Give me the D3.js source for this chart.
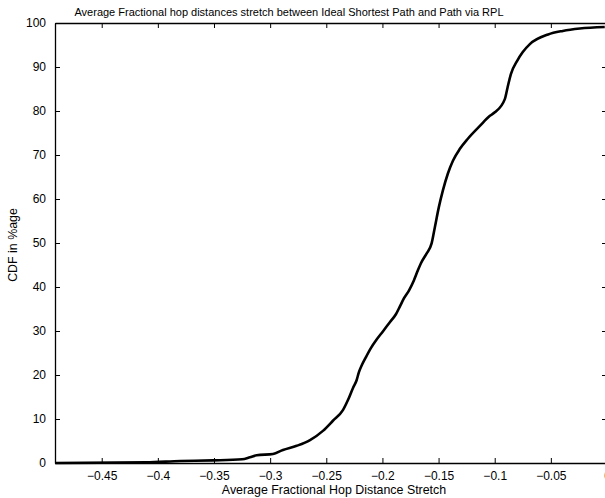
<!DOCTYPE html>
<html>
<head>
<meta charset="utf-8">
<script src="https://cdn.jsdelivr.net/npm/d3@7"></script>
<style>
  html, body { margin: 0; padding: 0; background: #fff; }
  svg { display: block; }
  text { font-family: "Liberation Sans", Arial, Helvetica, sans-serif; fill: #000; }
</style>
</head>
<body>
<svg id="chart" width="605" height="498"></svg>
<script>
// ---- data ----
const stretchValues = [
  -0.4916, -0.4106, -0.380, -0.351, -0.325, -0.318, -0.312, -0.2975, -0.2886, -0.2764,
  -0.2645, -0.253, -0.2441, -0.2352, -0.2307, -0.2263, -0.223, -0.221, -0.2184, -0.2148,
  -0.2103, -0.2050, -0.1996, -0.1934, -0.1880, -0.1844, -0.1809, -0.1764, -0.1720, -0.1684,
  -0.1657, -0.1607, -0.1562, -0.1533, -0.1498, -0.1462, -0.1417, -0.1372, -0.1310, -0.1239,
  -0.1132, -0.1043, -0.0999, -0.0910, -0.0886, -0.0856, -0.0800, -0.075, -0.0687, -0.0524,
  -0.0394, -0.0242, -0.002
];
const cdfPercent = [
  0, 0.15, 0.45, 0.6, 0.85, 1.3, 1.75, 2.05, 2.95, 3.9,
  5.2, 7.3, 9.6, 12.0, 14.3, 17.0, 18.8, 20.6, 22.2, 24.0,
  26.1, 28.1, 29.9, 32.0, 33.8, 35.6, 37.4, 39.2, 41.5, 43.8,
  45.4, 47.6, 49.9, 53.6, 58.1, 61.9, 65.8, 68.7, 71.4, 73.7,
  76.6, 78.9, 79.7, 82.7, 85.3, 88.4, 91.4, 93.4, 95.2, 97.4,
  98.2, 98.75, 99.1
];
const xTicks = [-0.45, -0.4, -0.35, -0.3, -0.25, -0.2, -0.15, -0.1, -0.05, 0];
const xTickLabels = ["\u22120.45", "\u22120.4", "\u22120.35", "\u22120.3", "\u22120.25", "\u22120.2", "\u22120.15", "\u22120.1", "\u22120.05", "0"];
const yTicks = [0, 10, 20, 30, 40, 50, 60, 70, 80, 90, 100];
const xDomain = [-0.4916, 0];
const yDomain = [0, 100];
const titleText = "Average Fractional hop distances stretch between Ideal Shortest Path and Path via RPL";
const xLabelText = "Average Fractional Hop Distance Stretch";
const yLabelText = "CDF in %age";

// ---- layout ----
const mLeft = 55, mRight = 607, mTop = 23, mBottom = 463;
const svg = d3.select("#chart");
const x = d3.scaleLinear().domain(xDomain).range([mLeft, mRight]);
const y = d3.scaleLinear().domain(yDomain).range([mBottom, mTop]);
const tickFont = "12px";

// bottom axis (ticks inward)
const gx = svg.append("g").attr("transform", `translate(0,${mBottom})`)
  .call(d3.axisBottom(x).tickValues(xTicks).tickSizeInner(-5).tickSizeOuter(0)
    .tickFormat((d, i) => xTickLabels[i]));
gx.selectAll("text").attr("y", 8).attr("dy", "0.71em").style("font-size", tickFont);
// top axis (no labels)
svg.append("g").attr("transform", `translate(0,${mTop})`)
  .call(d3.axisTop(x).tickValues(xTicks).tickSizeInner(-5).tickSizeOuter(0).tickFormat(""));
// left axis
const gy = svg.append("g").attr("transform", `translate(${mLeft},0)`)
  .call(d3.axisLeft(y).tickValues(yTicks).tickSizeInner(-5).tickSizeOuter(0).tickFormat(d3.format("d")));
gy.selectAll("text").attr("x", -9).style("font-size", tickFont);
// right axis (off-canvas mostly)
svg.append("g").attr("transform", `translate(${mRight},0)`)
  .call(d3.axisRight(y).tickValues(yTicks).tickSizeInner(-5).tickSizeOuter(0).tickFormat(""));

svg.selectAll(".domain").attr("stroke", "#000").attr("stroke-width", 1.3);
svg.selectAll(".tick line").attr("stroke", "#000").attr("stroke-width", 1);
svg.selectAll(".tick text").style("font-family", "'Liberation Sans', Arial, sans-serif").attr("fill", "#000");

// curve
const pts = stretchValues.map((v, i) => [v, cdfPercent[i]]);
svg.append("path")
  .datum(pts)
  .attr("fill", "none")
  .attr("stroke", "#000")
  .attr("stroke-width", 2.6)
  .attr("stroke-linejoin", "round")
  .attr("d", d3.line().x(d => x(d[0])).y(d => y(d[1])).curve(d3.curveMonotoneX));

// texts
svg.append("text").attr("x", 289).attr("y", 16).attr("text-anchor", "middle")
  .style("font-size", "11px").text(titleText);
svg.append("text").attr("x", 334).attr("y", 494).attr("text-anchor", "middle")
  .style("font-size", "12.4px").text(xLabelText);
svg.append("text").attr("transform", "translate(17,245) rotate(-90)").attr("text-anchor", "middle")
  .style("font-size", "12.4px").text(yLabelText);
</script>
</body>
</html>
